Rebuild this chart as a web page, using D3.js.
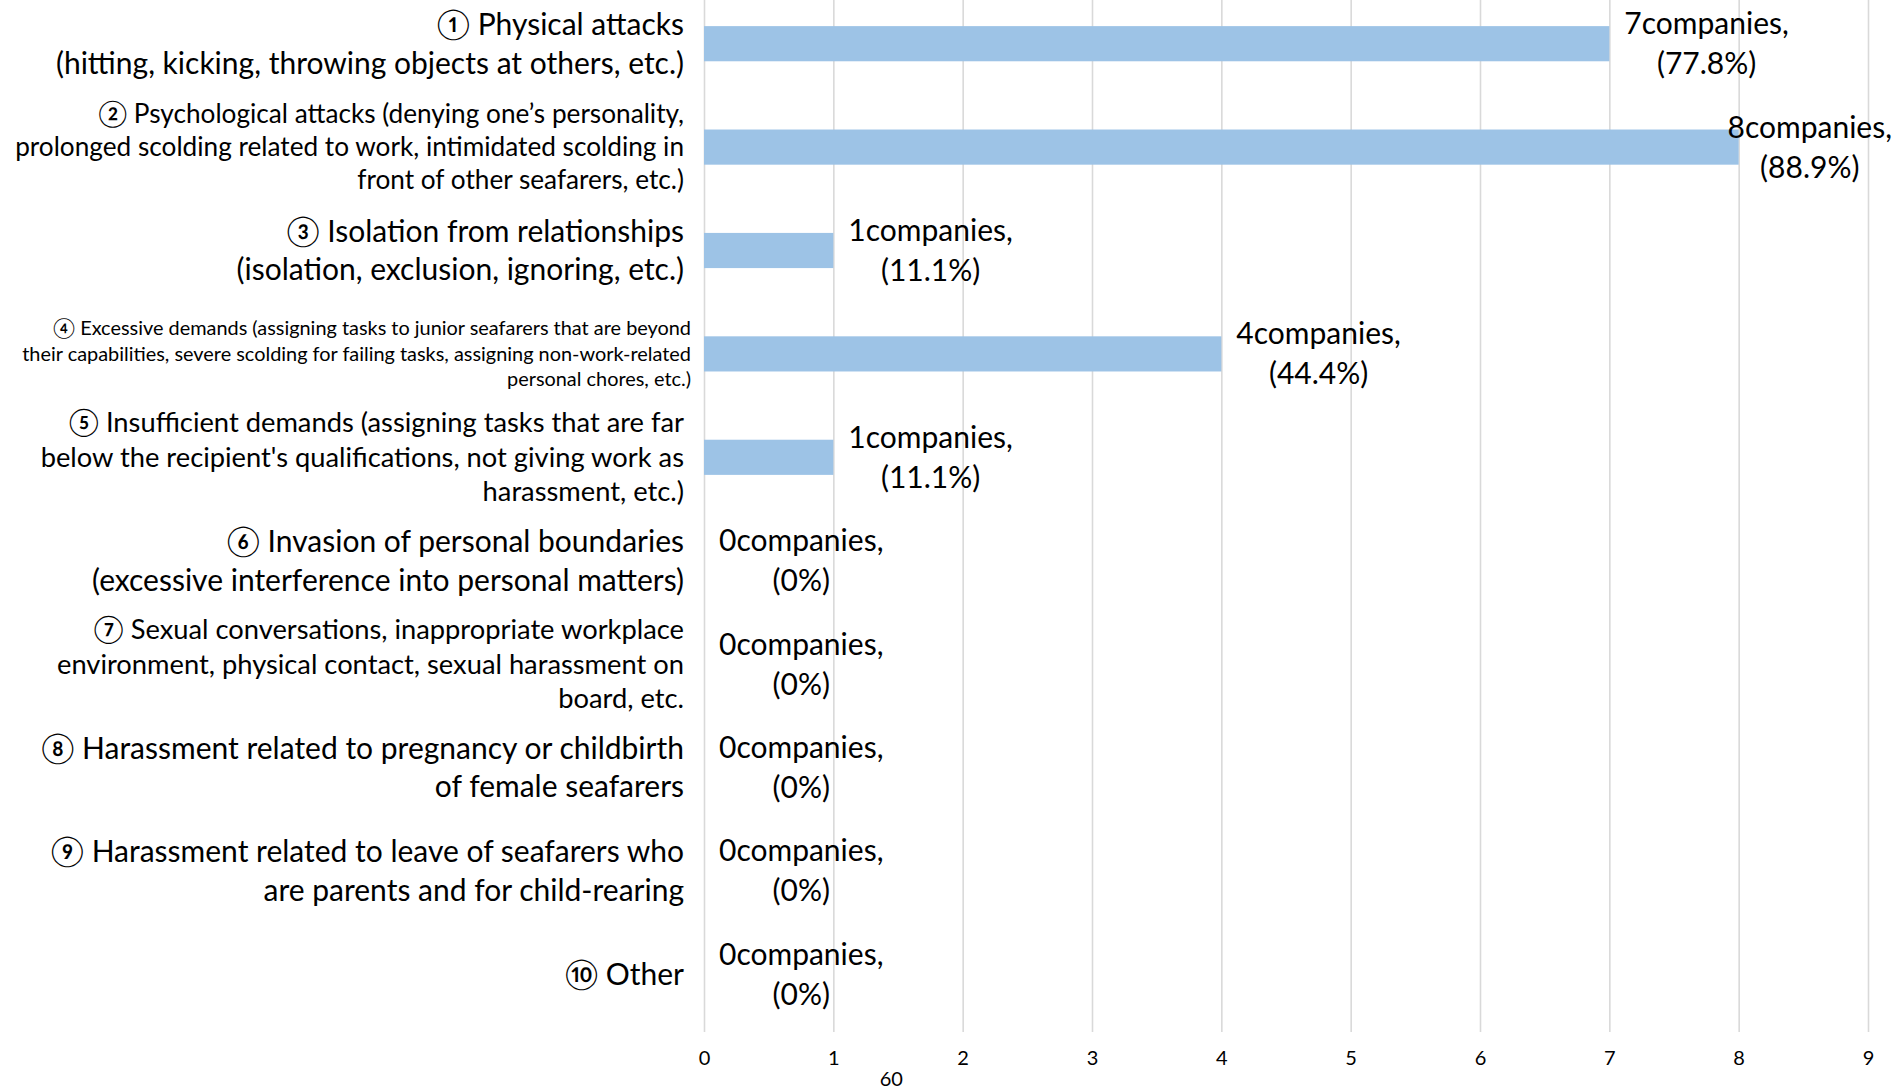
<!DOCTYPE html>
<html><head><meta charset="utf-8">
<script src="https://cdn.jsdelivr.net/npm/d3@7/dist/d3.min.js"></script>
<style>
body{margin:0;background:#fff}
text{font-family:Lato,"Noto Sans CJK JP",sans-serif;fill:#000}
</style></head>
<body><svg id="c" width="1899" height="1090"></svg>
<script>
// ---- data ----
const categories = [
  ["① Physical attacks", "(hitting, kicking, throwing objects at others, etc.)"],
  ["② Psychological attacks (denying one’s personality,", "prolonged scolding related to work, intimidated scolding in", "front of other seafarers, etc.)"],
  ["③ Isolation from relationships", "(isolation, exclusion, ignoring, etc.)"],
  ["④ Excessive demands (assigning tasks to junior seafarers that are beyond", "their capabilities, severe scolding for failing tasks, assigning non-work-related", "personal chores, etc.)"],
  ["⑤ Insufficient demands (assigning tasks that are far", "below the recipient's qualifications, not giving work as", "harassment, etc.)"],
  ["⑥ Invasion of personal boundaries", "(excessive interference into personal matters)"],
  ["⑦ Sexual conversations, inappropriate workplace", "environment, physical contact, sexual harassment on", "board, etc."],
  ["⑧ Harassment related to pregnancy or childbirth", "of female seafarers"],
  ["⑨ Harassment related to leave of seafarers who", "are parents and for child-rearing"],
  ["⑩ Other"]
];
const values = [7, 8, 1, 4, 1, 0, 0, 0, 0, 0];
const percents = ["77.8%", "88.9%", "11.1%", "44.4%", "11.1%", "0%", "0%", "0%", "0%", "0%"];
const xTicks = [0, 1, 2, 3, 4, 5, 6, 7, 8, 9];
const strayLabel = "60";

// ---- styles ----
const labelStyle = [
  {size: 30, lh: 38.7, dx: 0},
  {size: 26.2, lh: 33, dx: 0},
  {size: 30, lh: 38.7, dx: 0},
  {size: 19.9, lh: 25.4, dx: 7},
  {size: 27.3, lh: 34.5, dx: 0},
  {size: 30, lh: 38.7, dx: 0},
  {size: 27.3, lh: 34.5, dx: 0},
  {size: 30, lh: 38.7, dx: 0},
  {size: 30, lh: 38.7, dx: 0},
  {size: 30, lh: 38.7, dx: 0}
];

const svg = d3.select("#c");
const x = d3.scaleLinear().domain([0, 9]).range([704, 1868]);
const y = d3.scaleBand().domain(d3.range(categories.length)).range([-8, 1026]).paddingInner(0.66).paddingOuter(0.33);
const plotBottom = 1032;

// grid + axis
const ax = svg.append("g").attr("transform", `translate(0,${plotBottom})`)
  .call(d3.axisBottom(x).tickValues(xTicks).tickSize(-plotBottom).tickPadding(19).tickFormat(d3.format("d")));
ax.select(".domain").remove();
ax.selectAll(".tick line").attr("stroke", "#d9d9d9").attr("stroke-width", 1.6);
ax.selectAll(".tick text").style("font-size", "20px").attr("font-family", null);

svg.append("text").attr("x", x(1) + 58).attr("y", 1079).attr("dy", "0.35em")
  .attr("text-anchor", "middle").style("font-size", "20px").text(strayLabel);

// bars
svg.append("g").selectAll("rect").data(values).join("rect")
  .attr("x", x(0)).attr("y", (d, i) => y(i))
  .attr("width", d => x(d) - x(0)).attr("height", y.bandwidth())
  .attr("fill", "#9dc3e6");

// category labels
const lab = svg.append("g");
categories.forEach((lines, i) => {
  const st = labelStyle[i];
  const cy = y(i) + y.bandwidth() / 2;
  const t = lab.append("text").attr("text-anchor", "end").style("font-size", st.size + "px");
  lines.forEach((ln, j) => {
    t.append("tspan").attr("x", x(0) - 20 + st.dx)
      .attr("y", cy + (j - (lines.length - 1) / 2) * st.lh).attr("dy", "0.35em").text(ln);
  });
});

// data labels
const dl = svg.append("g");
const maxRight = 1892;
values.forEach((v, i) => {
  const cy = y(i) + y.bandwidth() / 2;
  const t = dl.append("text").attr("text-anchor", "middle").style("font-size", "30px");
  const l1 = t.append("tspan").attr("y", cy - 20).attr("dy", "0.35em").text(v + "companies,");
  const l2 = t.append("tspan").attr("y", cy + 20).attr("dy", "0.35em").text("(" + percents[i] + ")");
  const w = l1.node().getComputedTextLength();
  let cx = x(v) + 15 + w / 2;
  if (cx + w / 2 > maxRight) cx = maxRight - w / 2;
  l1.attr("x", cx); l2.attr("x", cx);
});
</script></body></html>
